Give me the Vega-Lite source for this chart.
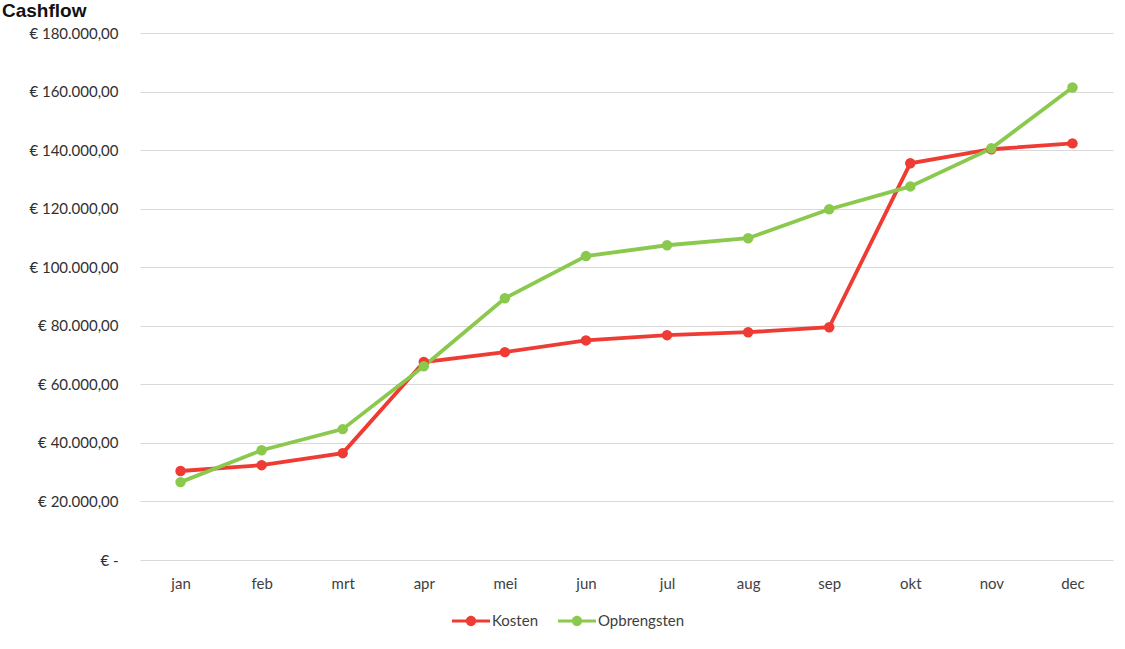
{
  "$schema": "https://vega.github.io/schema/vega-lite/v6.json",
  "width": 973,
  "height": 527,
  "autosize": {"type": "none"},
  "padding": {"left": 140, "top": 33, "right": 12, "bottom": 89},
  "background": "white",
  "title": {
    "text": "Cashflow",
    "anchor": "start",
    "frame": "group",
    "font": "Liberation Sans",
    "fontSize": 19,
    "fontWeight": "bold",
    "color": "#111111",
    "dx": -138,
    "baseline": "alphabetic",
    "offset": 0,
    "dy": 10
  },
  "config": {
    "locale": {
      "number": {"decimal": ",", "thousands": ".", "grouping": [3], "currency": ["€ ", ""]}
    },
    "view": {"stroke": null},
    "font": "Lato"
  },
  "data": {
    "values": [
      {"maand": "jan", "serie": "Kosten", "bedrag": 30400},
      {"maand": "feb", "serie": "Kosten", "bedrag": 32400},
      {"maand": "mrt", "serie": "Kosten", "bedrag": 36500},
      {"maand": "apr", "serie": "Kosten", "bedrag": 67600},
      {"maand": "mei", "serie": "Kosten", "bedrag": 71000},
      {"maand": "jun", "serie": "Kosten", "bedrag": 75000},
      {"maand": "jul", "serie": "Kosten", "bedrag": 76800},
      {"maand": "aug", "serie": "Kosten", "bedrag": 77800},
      {"maand": "sep", "serie": "Kosten", "bedrag": 79500},
      {"maand": "okt", "serie": "Kosten", "bedrag": 135500},
      {"maand": "nov", "serie": "Kosten", "bedrag": 140300},
      {"maand": "dec", "serie": "Kosten", "bedrag": 142300},
      {"maand": "jan", "serie": "Opbrengsten", "bedrag": 26600},
      {"maand": "feb", "serie": "Opbrengsten", "bedrag": 37500},
      {"maand": "mrt", "serie": "Opbrengsten", "bedrag": 44700},
      {"maand": "apr", "serie": "Opbrengsten", "bedrag": 66200},
      {"maand": "mei", "serie": "Opbrengsten", "bedrag": 89400},
      {"maand": "jun", "serie": "Opbrengsten", "bedrag": 103800},
      {"maand": "jul", "serie": "Opbrengsten", "bedrag": 107500},
      {"maand": "aug", "serie": "Opbrengsten", "bedrag": 109900},
      {"maand": "sep", "serie": "Opbrengsten", "bedrag": 119800},
      {"maand": "okt", "serie": "Opbrengsten", "bedrag": 127600},
      {"maand": "nov", "serie": "Opbrengsten", "bedrag": 140600},
      {"maand": "dec", "serie": "Opbrengsten", "bedrag": 161400}
    ]
  },
  "mark": {
    "type": "line",
    "strokeWidth": 3.8,
    "point": {"filled": true, "size": 110, "opacity": 1}
  },
  "encoding": {
    "x": {
      "field": "maand",
      "type": "ordinal",
      "sort": ["jan", "feb", "mrt", "apr", "mei", "jun", "jul", "aug", "sep", "okt", "nov", "dec"],
      "scale": {"paddingInner": 0, "paddingOuter": 0},
      "axis": {
        "title": null,
        "labelAngle": 0,
        "domain": false,
        "ticks": false,
        "labelPadding": 16,
        "labelFontSize": 15,
        "labelColor": "#404040",
        "labelFont": "Lato"
      }
    },
    "y": {
      "field": "bedrag",
      "type": "quantitative",
      "scale": {"domain": [0, 180000], "nice": false},
      "axis": {
        "title": null,
        "values": [0, 20000, 40000, 60000, 80000, 100000, 120000, 140000, 160000, 180000],
        "format": "$,.2f",
        "labelExpr": "datum.value == 0 ? '€ -    ' : datum.label",
        "domain": false,
        "ticks": false,
        "labelPadding": 22,
        "labelFontSize": 15,
        "labelColor": "#303030",
        "labelFont": "Lato",
        "gridColor": "#d9d9d9",
        "gridWidth": 1
      }
    },
    "color": {
      "field": "serie",
      "type": "nominal",
      "scale": {"domain": ["Kosten", "Opbrengsten"], "range": ["#ee3b33", "#8bc94e"]},
      "legend": {
        "title": null,
        "orient": "none",
        "direction": "horizontal",
        "legendX": 312,
        "legendY": 569,
        "symbolType": "M-1,-0.08L1,-0.08L1,0.08L-1,0.08Z M0.27,0A0.27,0.27 0 1,1 -0.27,0A0.27,0.27 0 1,1 0.27,0Z",
        "symbolSize": 1444,
        "symbolStrokeWidth": 0,
        "labelFontSize": 15,
        "labelColor": "#404040",
        "labelFont": "Lato",
        "labelOffset": 2,
        "columnPadding": 20,
        "encode": {
          "symbols": {"update": {"fill": {"scale": "color", "field": "value"}, "opacity": {"value": 1}}}
        }
      }
    }
  }
}
